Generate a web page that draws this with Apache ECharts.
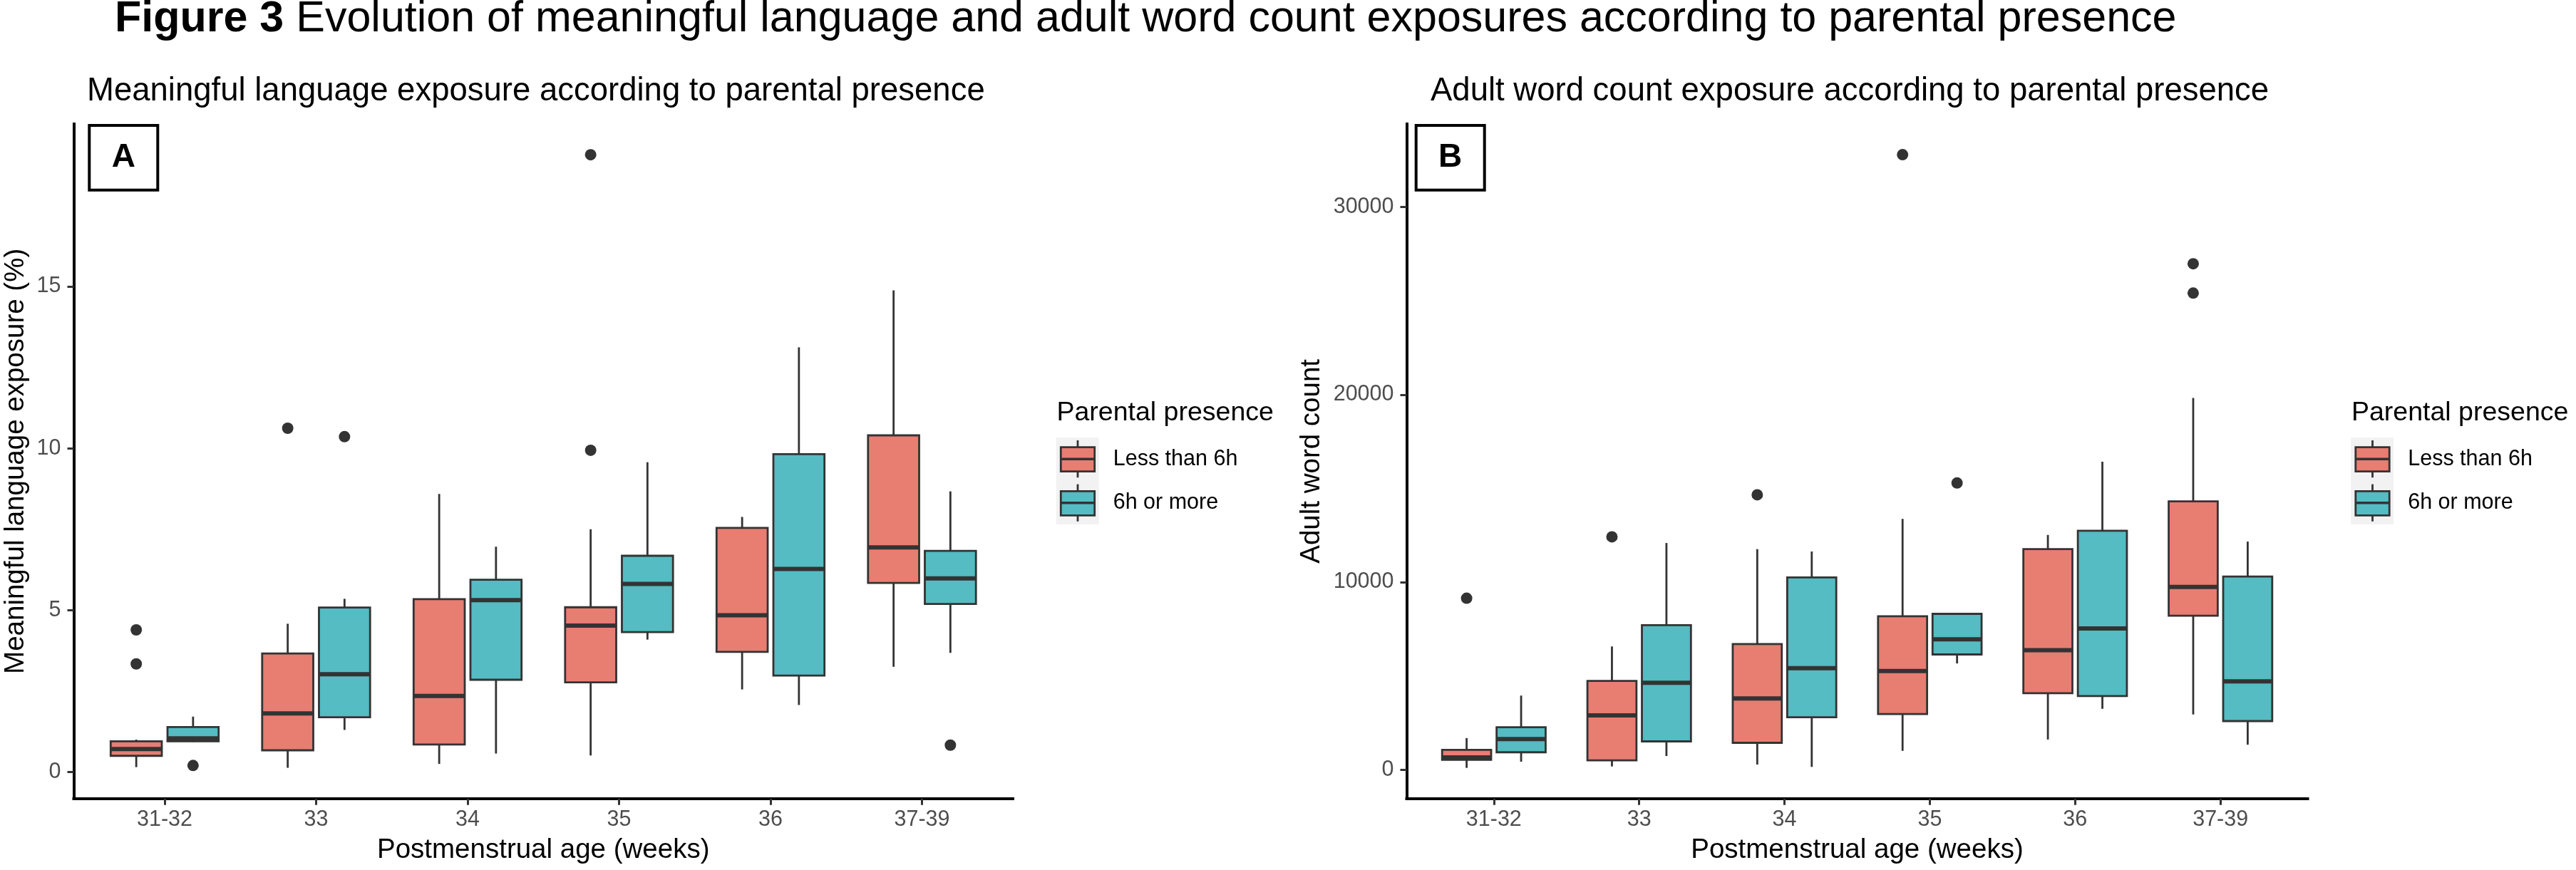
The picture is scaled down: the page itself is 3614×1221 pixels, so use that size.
<!DOCTYPE html>
<html>
<head>
<meta charset="utf-8">
<script src="https://cdn.jsdelivr.net/npm/echarts@6/dist/echarts.min.js"></script>
<style>
html, body { margin: 0; padding: 0; background: #ffffff; }
#chart { width: 3614px; height: 1221px; }
</style>
</head>
<body>
<div id="chart"></div>
<script>
// ---------------- DATA ----------------
const categories = ['31-32', '33', '34', '35', '36', '37-39'];
const groupNames = ['Less than 6h', '6h or more'];

// Panel A: meaningful language exposure (%) — [lower whisker, Q1, median, Q3, upper whisker]
const mlLess = [
  [0.15, 0.50, 0.71, 0.95, 1.00],
  [0.13, 0.67, 1.81, 3.66, 4.58],
  [0.25, 0.85, 2.35, 5.34, 8.59],
  [0.51, 2.77, 4.52, 5.09, 7.50],
  [2.55, 3.71, 4.84, 7.54, 7.88],
  [3.25, 5.84, 6.94, 10.40, 14.88]
];
const mlMore = [
  [0.93, 0.95, 1.04, 1.39, 1.71],
  [1.30, 1.69, 3.02, 5.08, 5.35],
  [0.57, 2.85, 5.31, 5.94, 6.96],
  [4.09, 4.32, 5.81, 6.68, 9.57],
  [2.07, 2.98, 6.27, 9.82, 13.12],
  [3.68, 5.19, 5.98, 6.83, 8.67]
];
// outliers: [category index, value]
const mlLessOutliers = [[0, 4.39], [0, 3.34], [1, 10.62], [3, 9.94], [3, 19.07]];
const mlMoreOutliers = [[0, 0.20], [1, 10.36], [5, 0.83]];

// Panel B: adult word count
const awLess = [
  [100, 529, 655, 1058, 1688],
  [176, 504, 2897, 4736, 6574],
  [277, 1436, 3804, 6700, 11763],
  [1008, 2972, 5264, 8186, 13375],
  [1612, 4081, 6373, 11763, 12519],
  [2947, 8212, 9748, 14307, 19824]
];
const awMore = [
  [428, 932, 1637, 2267, 3955],
  [730, 1511, 4635, 7708, 12091],
  [151, 2796, 5416, 10252, 11637],
  [5668, 6146, 6952, 8312, 8312],
  [3249, 3929, 7531, 12746, 16423],
  [1335, 2594, 4710, 10302, 12166]
];
const awLessOutliers = [[0, 9144], [1, 12418], [2, 14660], [3, 32796], [5, 26977], [5, 25416]];
const awMoreOutliers = [[3, 15290]];

const mlTicks = [0, 5, 10, 15];
const awTicks = [0, 10000, 20000, 30000];

// ---------------- STYLE ----------------
const FONT = '"Liberation Sans", Arial, Helvetica, sans-serif';
const RED = '#E87D72';
const TEAL = '#54BCC2';
const EDGE = '#333333';
const BOX_WIDTH = 0.3375;   // in category units (ggplot dodge 0.75 * 0.9 / 2)
const DODGE = 0.1875;       // half of the dodge slot
const catPositions = categories.map((c, i) => i);

function boxRenderer(offset, fill) {
  return function (params, api) {
    const x = api.value(0) + offset;
    const pMin = api.coord([x, api.value(1)]);
    const pQ1 = api.coord([x, api.value(2)]);
    const pMed = api.coord([x, api.value(3)]);
    const pQ3 = api.coord([x, api.value(4)]);
    const pMax = api.coord([x, api.value(5)]);
    const w = api.size([BOX_WIDTH, 0], [x, 0])[0];
    const cx = pMed[0];
    return {
      type: 'group',
      children: [
        { type: 'line', shape: { x1: cx, y1: pQ3[1], x2: cx, y2: pMax[1] }, style: { stroke: EDGE, lineWidth: 2.8 } },
        { type: 'line', shape: { x1: cx, y1: pQ1[1], x2: cx, y2: pMin[1] }, style: { stroke: EDGE, lineWidth: 2.8 } },
        { type: 'rect', shape: { x: cx - w / 2, y: pQ3[1], width: w, height: pQ1[1] - pQ3[1] },
          style: { fill: fill, stroke: EDGE, lineWidth: 2.8 } },
        { type: 'line', shape: { x1: cx - w / 2, y1: pMed[1], x2: cx + w / 2, y2: pMed[1] },
          style: { stroke: EDGE, lineWidth: 6 } }
      ]
    };
  };
}
function outlierRenderer(offset) {
  return function (params, api) {
    const p = api.coord([api.value(0) + offset, api.value(1)]);
    return { type: 'circle', shape: { cx: p[0], cy: p[1], r: 8 }, style: { fill: EDGE } };
  };
}

function xAxisFor(gridIndex) {
  return {
    type: 'value', gridIndex: gridIndex, min: -0.6, max: 5.6,
    name: 'Postmenstrual age (weeks)', nameLocation: 'middle', nameGap: 53,
    nameTextStyle: { fontSize: 38.5, color: '#000', fontFamily: FONT },
    axisLine: { show: true, onZero: false, lineStyle: { color: '#000', width: 4, cap: 'square' } },
    axisTick: { show: true, customValues: catPositions, length: 9, lineStyle: { color: EDGE, width: 3 } },
    axisLabel: { customValues: catPositions, formatter: function (v) { return categories[Math.round(v)]; },
      fontSize: 30.5, color: '#4D4D4D', fontFamily: FONT, margin: 14 },
    splitLine: { show: false }
  };
}
function yAxisFor(gridIndex, name, min, max, ticks, nameGap) {
  return {
    type: 'value', gridIndex: gridIndex, min: min, max: max,
    name: name, nameLocation: 'middle', nameGap: nameGap, nameRotate: 90,
    nameTextStyle: { fontSize: 38.5, color: '#000', fontFamily: FONT },
    axisLine: { show: true, onZero: false, lineStyle: { color: '#000', width: 4, cap: 'square' } },
    axisTick: { show: true, customValues: ticks, length: 9, lineStyle: { color: EDGE, width: 3 } },
    axisLabel: { customValues: ticks, formatter: function (v) { return String(v); },
      fontSize: 30.5, color: '#4D4D4D', fontFamily: FONT, margin: 18 },
    splitLine: { show: false }
  };
}

function panelSeries(idx, less, more, lessOut, moreOut) {
  return [
    { type: 'custom', name: groupNames[0], xAxisIndex: idx, yAxisIndex: idx,
      data: less.map((d, i) => [i].concat(d)), encode: { x: 0, y: [1, 2, 3, 4, 5] },
      renderItem: boxRenderer(-DODGE, RED), itemStyle: { color: RED } },
    { type: 'custom', name: groupNames[1], xAxisIndex: idx, yAxisIndex: idx,
      data: more.map((d, i) => [i].concat(d)), encode: { x: 0, y: [1, 2, 3, 4, 5] },
      renderItem: boxRenderer(DODGE, TEAL), itemStyle: { color: TEAL } },
    { type: 'custom', name: groupNames[0] + ' outliers', xAxisIndex: idx, yAxisIndex: idx,
      data: lessOut, encode: { x: 0, y: 1 }, renderItem: outlierRenderer(-DODGE), z: 3 },
    { type: 'custom', name: groupNames[1] + ' outliers', xAxisIndex: idx, yAxisIndex: idx,
      data: moreOut, encode: { x: 0, y: 1 }, renderItem: outlierRenderer(DODGE), z: 3 }
  ];
}

// legend drawn as boxplot keys (ggplot style), placed right of each panel
function legendGraphics(R) {
  const els = [];
  els.push({ type: 'text', left: R + 61.5, top: 579.4 - 18.5,
    style: { text: 'Parental presence', fontSize: 37.5, fontFamily: FONT, fill: '#000' } });
  els.push({ type: 'rect', shape: { x: R + 60.7, y: 614.3, width: 60, height: 121.7 }, style: { fill: '#F2F2F2' } });
  const keys = [{ c: RED, top: 627.7, med: 644.3 }, { c: TEAL, top: 689.3, med: 705.7 }];
  keys.forEach(function (k, i) {
    const cx = R + 91;
    els.push({ type: 'line', shape: { x1: cx, y1: k.top - 9.7, x2: cx, y2: k.top + 34 + 8.5 }, style: { stroke: EDGE, lineWidth: 2.8 } });
    els.push({ type: 'rect', shape: { x: R + 67.3, y: k.top, width: 47.4, height: 34 }, style: { fill: k.c, stroke: EDGE, lineWidth: 2.8 } });
    els.push({ type: 'line', shape: { x1: R + 67.3, y1: k.med, x2: R + 114.7, y2: k.med }, style: { stroke: EDGE, lineWidth: 3.5 } });
    els.push({ type: 'text', left: R + 140.7, top: k.med - 15.25,
      style: { text: groupNames[i], fontSize: 30.5, fontFamily: FONT, fill: '#000' } });
  });
  return els;
}
function tagGraphics(x, letter) {
  return [
    { type: 'rect', shape: { x: x, y: 176, width: 96, height: 90.7 }, style: { fill: '#fff', stroke: '#000', lineWidth: 4 } },
    { type: 'text', left: x + 48 - 16.6, top: 221.7 - 23,
      style: { text: letter, fontSize: 46, fontWeight: 'bold', fontFamily: FONT, fill: '#000' } }
  ];
}

const chart = echarts.init(document.getElementById('chart'), null, { renderer: 'canvas' });
const option = {
  backgroundColor: '#ffffff',
  animation: false,
  textStyle: { fontFamily: FONT },
  title: [
    { text: '{b|Figure 3} Evolution of meaningful language and adult word count exposures according to parental presence',
      left: 161, top: -3, padding: 0,
      textStyle: { fontSize: 61, fontWeight: 'normal', color: '#000', fontFamily: FONT,
        rich: { b: { fontSize: 61, fontWeight: 'bold', color: '#000', fontFamily: FONT } } } },
    { text: 'Meaningful language exposure according to parental presence', left: 122, top: 105, padding: 0,
      textStyle: { fontSize: 45.5, fontWeight: 'normal', color: '#000', fontFamily: FONT } },
    { text: 'Adult word count exposure according to parental presence', left: 2007, top: 105, padding: 0,
      textStyle: { fontSize: 45.5, fontWeight: 'normal', color: '#000', fontFamily: FONT } }
  ],
  grid: [
    { left: 103.5, top: 174, width: 1317.5, height: 946.7, containLabel: false, outerBoundsMode: 'none' },
    { left: 1973.5, top: 174, width: 1264, height: 946.7, containLabel: false, outerBoundsMode: 'none' }
  ],
  xAxis: [xAxisFor(0), xAxisFor(1)],
  yAxis: [
    yAxisFor(0, 'Meaningful language exposure (%)', -0.82, 20.02, mlTicks, 62),
    yAxisFor(1, 'Adult word count', -1535, 34431, awTicks, 114)
  ],
  series: [].concat(
    panelSeries(0, mlLess, mlMore, mlLessOutliers, mlMoreOutliers),
    panelSeries(1, awLess, awMore, awLessOutliers, awMoreOutliers)
  ),
  graphic: [].concat(
    legendGraphics(1421),
    legendGraphics(3237.5),
    tagGraphics(125.3, 'A'),
    tagGraphics(1986.7, 'B')
  )
};
chart.setOption(option);
</script>
</body>
</html>
